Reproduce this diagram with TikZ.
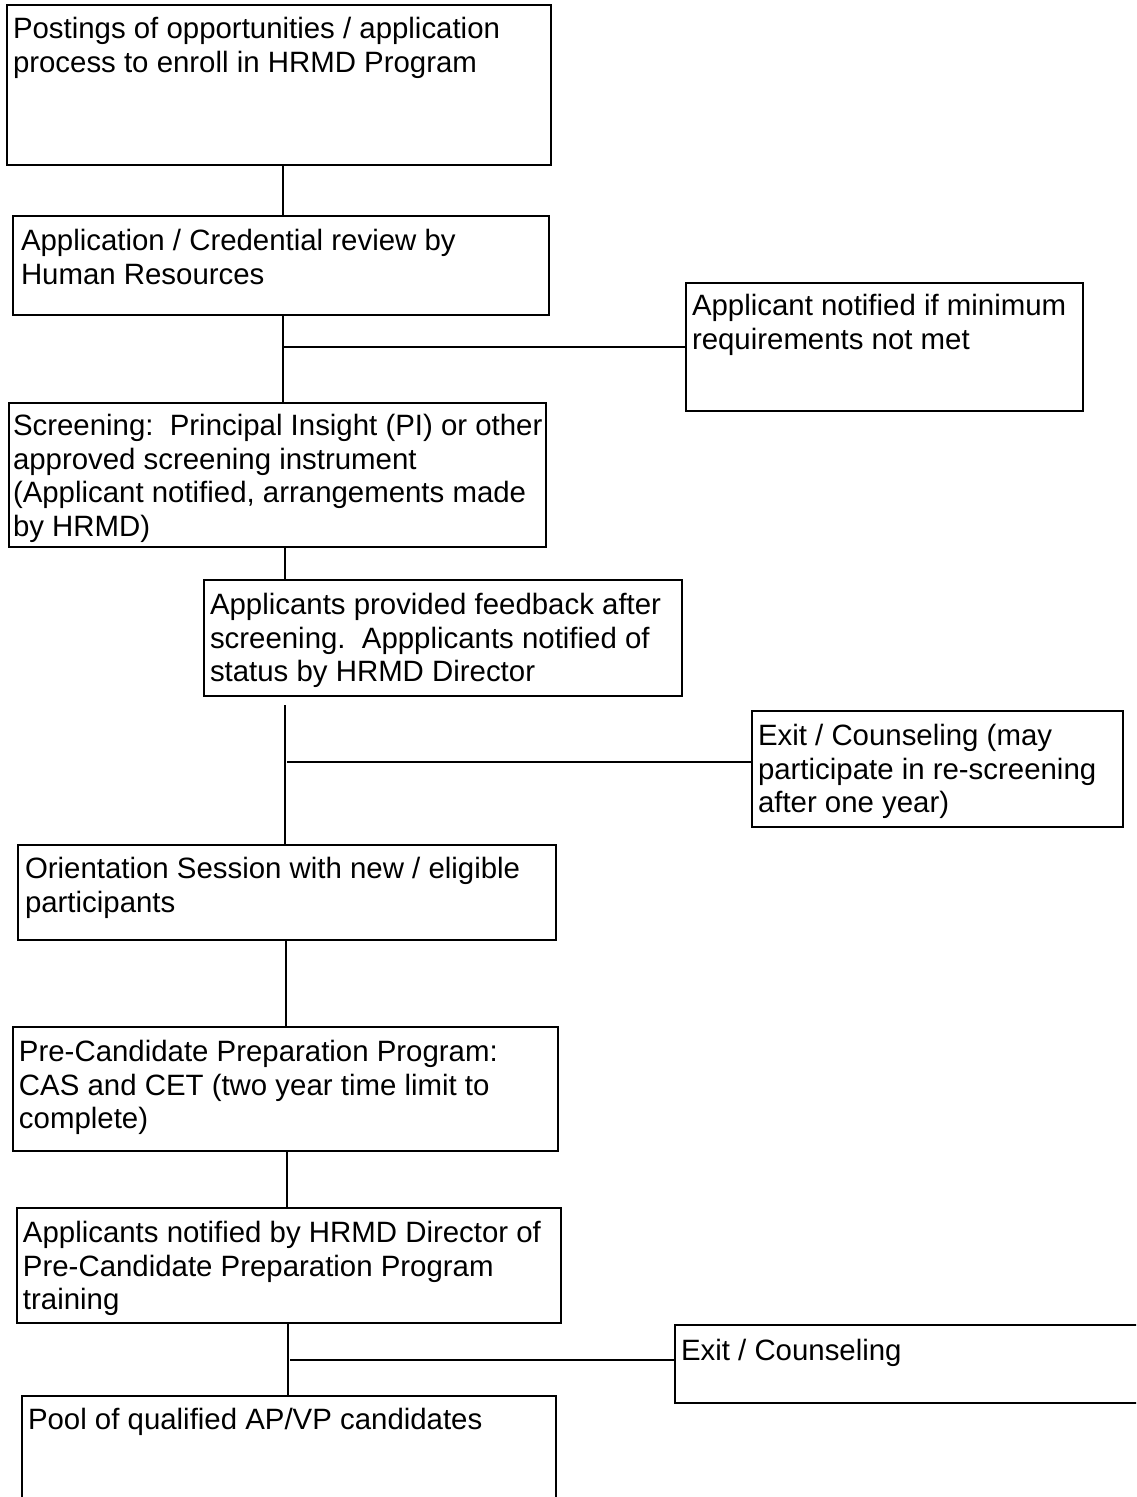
\documentclass[tikz,border=0pt]{standalone}
\usepackage{fontspec}
\setmainfont{Liberation Sans}
\begin{document}
\begin{tikzpicture}[x=1pt,y=-1pt,
  box/.style={draw, line width=2pt, anchor=north west, inner sep=0pt, outer sep=0pt},
  txt/.style={anchor=north west, inner sep=0pt, outer sep=0pt, align=left,
              font=\fontsize{29.4}{33.8}\selectfont},
  link/.style={line width=2pt}]
\useasboundingbox (0,0) rectangle (1136,1497);
\clip (0,0) rectangle (1136,1497);

% process boxes (top-left corner, size)
\node[box, minimum width=544, minimum height=160] (b1) at (7,5) {};
\node[box, minimum width=536, minimum height=99]  (b2) at (13,216) {};
\node[box, minimum width=397, minimum height=128] (b3) at (686,283) {};
\node[box, minimum width=537, minimum height=144] (b4) at (9,403) {};
\node[box, minimum width=478, minimum height=116] (b5) at (204,580) {};
\node[box, minimum width=371, minimum height=116] (b6) at (752,711) {};
\node[box, minimum width=538, minimum height=95]  (b7) at (18,845) {};
\node[box, minimum width=545, minimum height=124] (b8) at (13,1027) {};
\node[box, minimum width=544, minimum height=115] (b9) at (17,1208) {};
\node[box, minimum width=480, minimum height=78]  (b10) at (675,1325) {};
\node[box, minimum width=534, minimum height=130] (b11) at (22,1396) {};

% box texts
\node[txt] (b1t) at (13,17) {Postings of opportunities / application\\process to enroll in HRMD Program};
\node[txt] (b2t) at (21,229) {Application / Credential review by\\Human Resources};
\node[txt] (b3t) at (692,294) {Applicant notified if minimum\\requirements not met};
\node[txt] (b4t) at (13,414) {Screening:\ \ Principal Insight (PI) or other\\approved screening instrument\\(Applicant notified, arrangements made\\by HRMD)};
\node[txt] (b5t) at (210,593) {Applicants provided feedback after\\screening.\ \ Appplicants notified of\\status by HRMD Director};
\node[txt] (b6t) at (758,724) {Exit / Counseling (may\\participate in re-screening\\after one year)};
\node[txt] (b7t) at (25,857) {Orientation Session with new / eligible\\participants};
\node[txt] (b8t) at (19,1040) {Pre-Candidate Preparation Program:\\CAS and CET (two year time limit to\\complete)};
\node[txt] (b9t) at (23,1221) {Applicants notified by HRMD Director of\\Pre-Candidate Preparation Program\\training};
\node[txt] (b10t) at (681,1339) {Exit / Counseling};
\node[txt] (b11t) at (28,1408) {Pool of qualified AP/VP candidates};

% spine positions and junctions
\coordinate (s1) at (283,0);
\coordinate (s2) at (285,0);
\coordinate (s3) at (286,0);
\coordinate (s4) at (287,0);
\coordinate (s5) at (288,0);
\coordinate (top5) at (285,705);
\coordinate (j2) at (287,762);
\coordinate (j3) at (290,1360);

% connectors
\draw[link] (s1 |- b1.south) -- (s1 |- b2.north);
\draw[link] (s1 |- b2.south) -- (s1 |- b4.north);
\draw[link] (s1 |- b3.west) -- (b3.west);
\draw[link] (s2 |- b4.south) -- (s2 |- b5.north);
\draw[link] (top5) -- (s2 |- b7.north);
\draw[link] (j2) -- (j2 -| b6.west);
\draw[link] (s3 |- b7.south) -- (s3 |- b8.north);
\draw[link] (s4 |- b8.south) -- (s4 |- b9.north);
\draw[link] (s5 |- b9.south) -- (s5 |- b11.north);
\draw[link] (j3) -- (j3 -| b10.west);
\end{tikzpicture}
\end{document}
